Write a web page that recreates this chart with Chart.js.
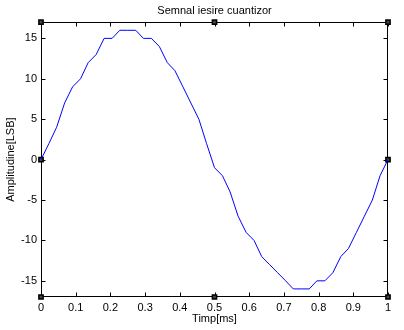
<!DOCTYPE html>
<html>
<head>
<meta charset="utf-8">
<script src="https://cdn.jsdelivr.net/npm/chart.js@4/dist/chart.umd.min.js"></script>
<style>
  html, body { margin: 0; padding: 0; background: #fff; }
  #wrap { width: 404px; height: 330px; }
</style>
</head>
<body>
<div id="wrap"><canvas id="ChartQuant"></canvas></div>
<script>
// samples of the quantizer output (time in ms, amplitude in LSB)
const timeMs = [0, 0.023, 0.045, 0.068, 0.091, 0.114, 0.136, 0.159, 0.182, 0.205,
                0.227, 0.25, 0.273, 0.295, 0.318, 0.341, 0.364, 0.386, 0.409, 0.432,
                0.455, 0.477, 0.5, 0.523, 0.545, 0.568, 0.591, 0.614, 0.636, 0.659,
                0.682, 0.705, 0.727, 0.75, 0.773, 0.795, 0.818, 0.841, 0.864, 0.886,
                0.909, 0.932, 0.955, 0.977, 1];
const amplitude = [0, 2, 4, 7, 9, 10, 12, 13, 15, 15,
                   16, 16, 16, 15, 15, 14, 12, 11, 9, 7,
                   5, 2, -1, -2, -4, -7, -9, -10, -12, -13,
                   -14, -15, -16, -16, -16, -15, -15, -14, -12, -11,
                   -9, -7, -5, -2, 0];

// selection handles around the axes box
const handleX = [0, 0.5, 1, 0, 1, 0, 0.5, 1];
const handleY = [17, 17, 17, 0, 0, -17, -17, -17];

const xTicks = [0, 0.1, 0.2, 0.3, 0.4, 0.5, 0.6, 0.7, 0.8, 0.9, 1];
const yTicks = [-15, -10, -5, 0, 5, 10, 15];

const FONT = { family: '"Liberation Sans", Arial, sans-serif', size: 11 };

// box around the plot with inward tick marks on all four sides
const boxPlugin = {
    id: 'matlabBox',
    beforeDatasetsDraw(chart) {
        const { ctx, chartArea: a, scales } = chart;
        const L = Math.round(a.left) + 0.5, R = Math.round(a.right) - 0.5;
        const T = Math.round(a.top) + 0.5, B = Math.round(a.bottom) - 0.5;
        const tl = 4;
        ctx.save();
        ctx.strokeStyle = '#000';
        ctx.lineWidth = 1;
        ctx.beginPath();
        ctx.rect(L, T, R - L, B - T);
        xTicks.forEach(v => {
            const x = Math.round(scales.x.getPixelForValue(v)) + 0.5;
            ctx.moveTo(x, B); ctx.lineTo(x, B - tl);
            ctx.moveTo(x, T); ctx.lineTo(x, T + tl);
        });
        yTicks.forEach(v => {
            const y = Math.round(scales.y.getPixelForValue(v)) + 0.5;
            ctx.moveTo(L, y); ctx.lineTo(L + tl, y);
            ctx.moveTo(R, y); ctx.lineTo(R - tl, y);
        });
        ctx.stroke();
        ctx.restore();
    }
};

const ctx = document.getElementById('ChartQuant').getContext('2d');
new Chart(ctx, {
    type: 'line',
    data: {
        datasets: [
            {
                label: 'cuantizor',
                data: timeMs.map((t, i) => ({ x: t, y: amplitude[i] })),
                borderColor: '#0000ff',
                borderWidth: 1,
                pointRadius: 0,
                tension: 0,
                fill: false
            },
            {
                label: 'handles',
                data: handleX.map((x, i) => ({ x: x, y: handleY[i] })),
                showLine: false,
                pointStyle: 'rect',
                pointRadius: 3,
                backgroundColor: '#444',
                borderColor: '#000',
                borderWidth: 1.5,
                clip: false
            }
        ]
    },
    options: {
        responsive: true,
        maintainAspectRatio: false,
        animation: false,
        layout: { padding: { left: 0, right: 16, top: 0, bottom: 0 } },
        plugins: {
            legend: { display: false },
            tooltip: { enabled: false },
            title: {
                display: true,
                text: 'Semnal iesire cuantizor',
                color: '#000',
                fullSize: false,
                font: { ...FONT, weight: 'normal' },
                padding: { top: 4, bottom: 5 }
            }
        },
        scales: {
            x: {
                type: 'linear',
                min: 0,
                max: 1,
                afterBuildTicks: s => { s.ticks = xTicks.map(v => ({ value: v })); },
                afterFit: s => { s.height = 33; },
                grid: { display: false, drawTicks: false },
                border: { display: false },
                ticks: {
                    color: '#000',
                    font: FONT,
                    padding: 4,
                    maxRotation: 0,
                    autoSkip: false,
                    callback: v => String(Number(v.toFixed(1)))
                },
                title: { display: true, text: 'Timp[ms]', color: '#000', font: FONT, padding: 4 }
            },
            y: {
                type: 'linear',
                min: -17,
                max: 17,
                afterBuildTicks: s => { s.ticks = yTicks.map(v => ({ value: v })); },
                afterFit: s => { s.width = 41; },
                grid: { display: false, drawTicks: false },
                border: { display: false },
                ticks: { color: '#000', font: FONT, padding: 4, autoSkip: false },
                title: { display: true, text: 'Amplitudine[LSB]', color: '#000', font: FONT, padding: 4 }
            }
        }
    },
    plugins: [boxPlugin]
});
</script>
</body>
</html>
